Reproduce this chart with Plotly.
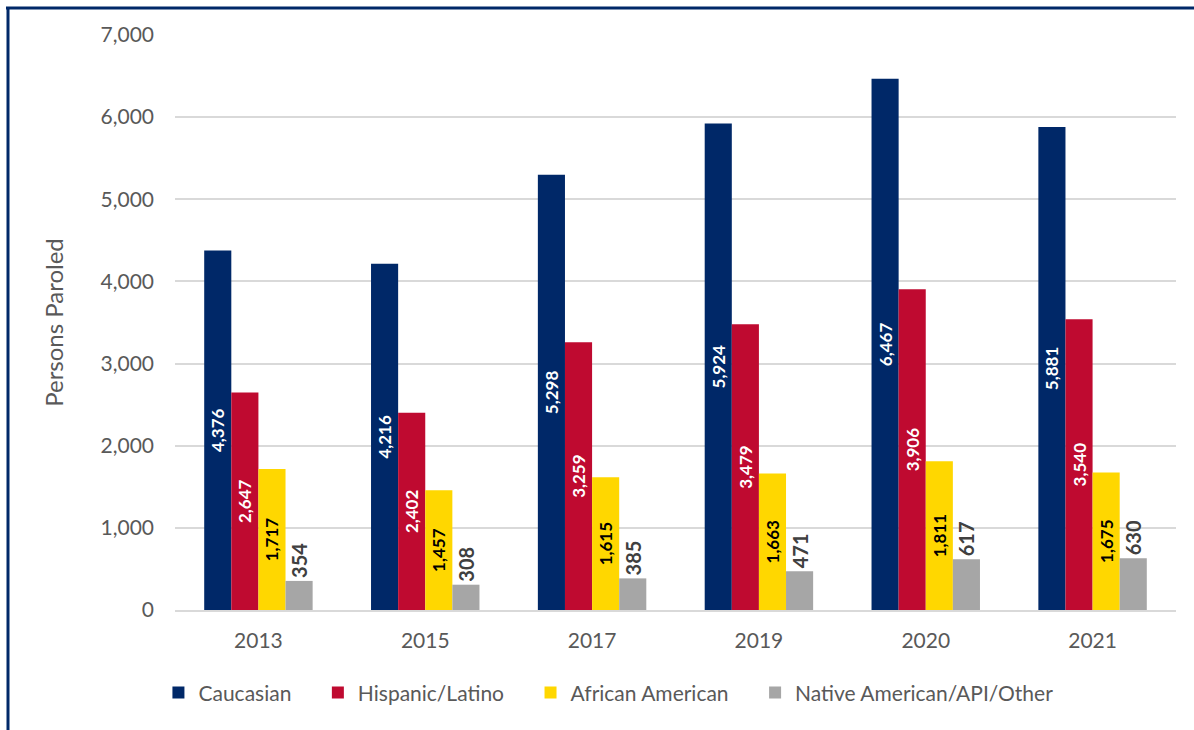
import plotly.graph_objects as go

# Persons paroled by race/ethnicity
years = ["2013", "2015", "2017", "2019", "2020", "2021"]
caucasian = [4376, 4216, 5298, 5924, 6467, 5881]
hispanic = [2647, 2402, 3259, 3479, 3906, 3540]
african_american = [1717, 1457, 1615, 1663, 1811, 1675]
native_other = [354, 308, 385, 471, 617, 630]

# nbsp padding widens the gap between legend entries
pad = "\u00a0" * 4
series = [
    ("Caucasian" + pad, caucasian, "#002868", "white", "inside", 17),
    ("Hispanic/Latino" + pad, hispanic, "#BF0A30", "white", "inside", 17),
    ("African American" + pad, african_american, "#FFD700", "black", "inside", 17),
    ("Native American/API/Other", native_other, "#A6A6A6", "#404040", "outside", 20),
]

font = "Lato, Open Sans, sans-serif"

fig = go.Figure()
for name, vals, color, tcolor, pos, tsize in series:
    fig.add_trace(go.Bar(
        x=years, y=vals, name=name,
        marker=dict(color=color, line=dict(width=0)),
        text=[f"{v:,}" for v in vals],
        textposition=pos,
        textangle=-90,
        insidetextanchor="middle",
        constraintext="none",
        cliponaxis=False,
        textfont=dict(family=font, size=tsize, color=tcolor, weight="bold"),
        outsidetextfont=dict(family=font, size=tsize, color=tcolor, weight="bold"),
    ))

fig.update_layout(
    width=1194, height=730,
    paper_bgcolor="white", plot_bgcolor="white",
    barmode="group", bargap=0.35, bargroupgap=0,
    margin=dict(l=175, r=18, t=35, b=120, autoexpand=False),
    font=dict(family=font, color="#595959", size=21),
    showlegend=True,
    legend=dict(orientation="h", x=0.433, xanchor="center", y=-0.144, yanchor="middle",
                font=dict(size=21, color="#595959"), itemwidth=30,
                traceorder="normal"),
)
fig.update_xaxes(showgrid=False, showline=True, linecolor="#D9D9D9", linewidth=2,
                 ticks="", ticklabelstandoff=11, tickfont=dict(size=21, color="#595959"))
fig.update_yaxes(range=[0, 7000], dtick=1000, tickformat=",", showgrid=True,
                 gridcolor="#D9D9D9", gridwidth=2, zeroline=False, showline=False,
                 ticks="", ticklabelstandoff=20,
                 title=dict(text="Persons Paroled", font=dict(size=24, color="#595959"), standoff=30),
                 tickfont=dict(size=21, color="#595959"))

# frame lines (top and left) as in the source document
top_y = (610 - 8) / 575
left_x = (8 - 175) / 1001
fig.add_shape(type="line", xref="paper", yref="paper", x0=left_x - 0.002, x1=1.05, y0=top_y, y1=top_y,
              line=dict(color="#002868", width=3))
fig.add_shape(type="line", xref="paper", yref="paper", x0=left_x, x1=left_x, y0=top_y, y1=-0.3,
              line=dict(color="#002868", width=3))

fig.write_html("out.html", config={"displayModeBar": False},
               post_script="document.body.style.margin='0px';document.body.style.overflow='hidden';")
